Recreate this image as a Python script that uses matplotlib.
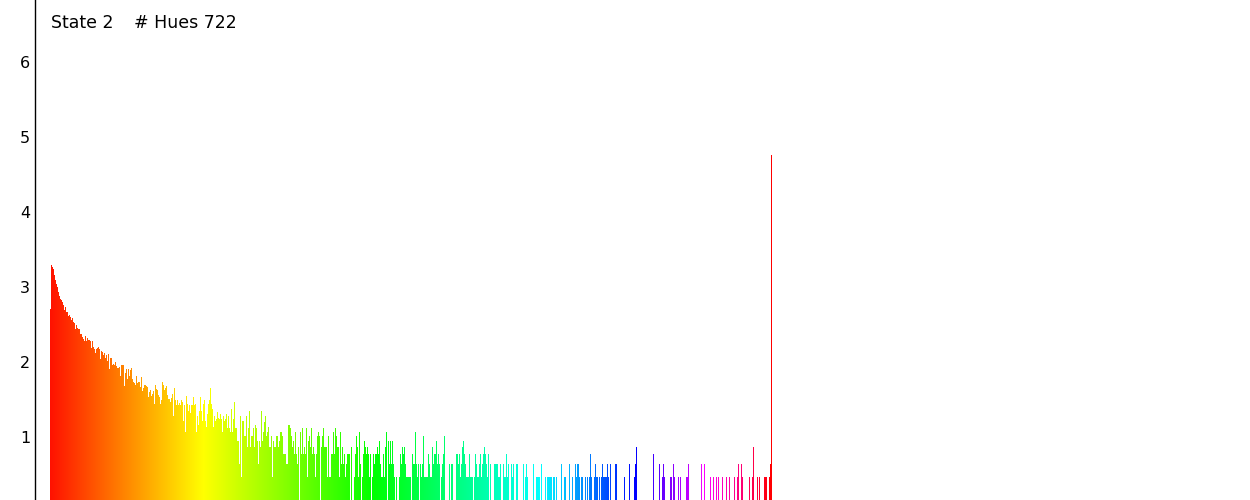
import numpy as np
import matplotlib
matplotlib.use("Agg")
import matplotlib.pyplot as plt
from matplotlib.colors import hsv_to_rgb

estado = "State 2"
cuenta_tonos = "# Hues 722"

# alturas de cada barra (una por tono)
tramo_a = [2.71, 3.29, 3.27, 3.24, 3.16, 3.09, 3.04, 3.00, 2.93, 2.88,
           2.84, 2.83, 2.80, 2.76, 2.70, 2.73, 2.67, 2.67, 2.61, 2.63,
           2.60, 2.56, 2.59, 2.54, 2.52, 2.44, 2.49, 2.46, 2.44, 2.44,
           2.38, 2.37, 2.33, 2.31, 2.28, 2.35, 2.28, 2.32, 2.30, 2.29,
           2.28, 2.19, 2.28, 2.20, 2.18, 2.12, 2.17, 2.19, 2.20, 2.17,
           2.04, 2.15, 2.13, 2.10, 2.12, 2.06, 2.09, 2.02, 2.11, 1.91,
           2.05, 2.06, 1.96, 1.98, 1.96, 2.00, 1.95, 1.92, 1.92, 1.94,
           1.81, 1.96, 1.96, 1.96, 1.68, 1.85, 1.91, 1.77, 1.91, 1.81,
           1.89, 1.92, 1.78, 1.74, 1.72, 1.70, 1.81, 1.72, 1.73, 1.74,
           1.67, 1.80, 1.61, 1.66, 1.69, 1.69, 1.68, 1.67, 1.54, 1.60,
           1.63, 1.55, 1.58, 1.62, 1.44, 1.69, 1.64, 1.63, 1.56, 1.54,
           1.44, 1.50, 1.73, 1.70, 1.63, 1.66, 1.68, 1.56, 1.51, 1.51]

tramo_b = [1.47, 1.52, 1.58, 1.28, 1.66, 1.49, 1.43, 1.49, 1.43, 1.46,
           1.43, 1.49, 1.47, 1.22, 1.43, 1.07, 1.55, 1.44, 1.35, 1.43,
           1.32, 1.43, 1.43, 1.53, 1.43, 1.44, 1.07, 1.28, 1.16, 1.35,
           1.53, 1.35, 1.22, 1.44, 1.49, 1.22, 1.13, 1.31, 1.44, 1.50,
           1.65, 1.44, 1.37, 1.13, 1.28, 1.22, 1.24, 1.34, 1.25, 1.24,
           1.31, 1.24, 1.07, 1.28, 1.22, 1.24, 1.31, 1.12, 1.28, 1.12,
           1.07, 1.37, 1.07, 1.24, 1.47, 1.12, 1.12, 0.95, 0.95, 0.64,
           1.28, 0.47, 1.22, 1.22, 1.01, 1.01, 1.28, 0.87, 1.12, 1.35,
           0.87, 1.01, 1.01, 1.12, 0.87, 1.16, 1.12, 0.95, 0.64, 0.95,
           0.87, 1.35, 0.95, 1.07, 1.20, 1.28, 1.01, 1.07, 1.13, 0.87,
           0.87, 1.01, 0.47, 0.95, 0.87, 0.87, 1.01, 1.01, 0.87, 0.95,
           1.07, 1.07, 1.01, 0.77, 0.77, 0.77, 0.64, 0.64, 1.16, 1.16]

tramo_c = [1.12, 1.01, 0.87, 0.95, 0.77, 1.07, 0.77, 0.64, 0.87, 0,
           1.07, 0.77, 1.12, 0.77, 0.87, 0.77, 1.12, 0.47, 0.95, 1.01,
           0.87, 1.12, 0.77, 0.87, 0.77, 0.47, 0.77, 1.01, 1.07, 1.01,
           0, 0.87, 1.01, 1.12, 0.87, 0.87, 0.87, 0.47, 1.01, 0.47,
           0.47, 0.77, 0.77, 1.07, 0.77, 1.12, 1.01, 0.87, 0.87, 0.47,
           1.07, 0.64, 0.87, 0.64, 0.77, 0.47, 0.64, 0.77, 0.77, 0.77,
           0, 0.87, 0, 0, 0.47, 0.77, 1.01, 0.87, 0.47, 1.07,
           0.64, 0, 0.47, 0.77, 0.95, 0.87, 0.77, 0.87, 0.77, 0.47,
           0.77, 0, 0.47, 0.77, 0.64, 0.77, 0.77, 0.87, 0.77, 0.95,
           0.64, 0.47, 0.47, 0.77, 0.47, 0.87, 1.07, 0, 0.95, 0.64,
           0.95, 0.64, 0.95, 0.64, 0.47, 0, 0.47, 0, 0, 0.47,
           0.77, 0.64, 0.87, 0.77, 0.87, 0.64, 0.47, 0.47, 0.47, 0.47,
           0.47, 0, 0.77, 0.64, 0.64]

tramo_d = [1.07, 0.64, 0.47, 0.64, 0, 0.64, 0.47, 0.64, 1.01, 0.47,
           0.47, 0.47, 0.47, 0.77, 0.64, 0.47, 0.47, 0.87, 0.64, 0.77,
           0.77, 0.95, 0.64, 0.77, 0.64, 0, 0.47, 0.64, 0.77, 1.01,
           0, 0, 0, 0, 0.64, 0, 0.64, 0.64, 0, 0,
           0, 0.77, 0.77, 0.64, 0.77, 0.47, 0.64, 0.87, 0.95, 0.77,
           0.64, 0.47, 0.47, 0.47, 0.77, 0.47, 0.47, 0.47, 0, 0.47,
           0.77, 0.64, 0.47, 0.47, 0.64, 0.77, 0.47, 0.64, 0.77, 0.87,
           0.77, 0.64, 0.47, 0.77, 0, 0.64, 0, 0, 0, 0.64,
           0.64, 0.64, 0.64, 0.47, 0.47, 0.64, 0, 0, 0.64, 0.47,
           0.47, 0.77, 0.47, 0.64, 0, 0, 0.64, 0.47, 0.64, 0,
           0, 0.64, 0.64, 0, 0, 0, 0, 0, 0.64, 0,
           0.47, 0.64, 0.47, 0, 0, 0, 0, 0, 0.64, 0,
           0, 0.47, 0.47, 0.47, 0.47]

tramo_e = [0, 0.64, 0, 0, 0, 0.47, 0, 0.47, 0.47, 0.47,
           0.47, 0.47, 0, 0.47, 0.47, 0, 0.47, 0, 0, 0,
           0, 0.64, 0, 0, 0.47, 0.47, 0, 0, 0, 0.64,
           0, 0, 0.47, 0, 0, 0.64, 0.47, 0.64, 0.64, 0.47,
           0, 0.47, 0.47, 0, 0, 0.47, 0, 0.47, 0, 0.47,
           0.77, 0.47, 0, 0, 0.47, 0.64, 0.47, 0.47, 0, 0.47,
           0, 0.47, 0.64, 0.47, 0.47, 0.47, 0.47, 0.64, 0.47, 0,
           0.64, 0, 0, 0, 0, 0.64, 0.64, 0, 0, 0,
           0, 0, 0, 0, 0.47, 0, 0, 0, 0, 0.64,
           0, 0, 0, 0, 0.47, 0.64, 0.87, 0, 0, 0,
           0, 0, 0, 0, 0, 0, 0, 0, 0, 0,
           0, 0, 0, 0.77, 0, 0, 0, 0, 0, 0.64,
           0, 0, 0.47, 0.64, 0.47]

tramo_f = [0, 0, 0, 0, 0, 0.47, 0.47, 0, 0.64, 0.47,
           0, 0, 0, 0.47, 0, 0.47, 0, 0, 0, 0,
           0, 0.47, 0.47, 0.64, 0, 0, 0, 0, 0, 0,
           0, 0, 0, 0, 0, 0, 0.64, 0, 0, 0.64,
           0, 0, 0, 0, 0, 0.47, 0, 0, 0.47, 0,
           0, 0.47, 0, 0.47, 0, 0, 0, 0.47, 0, 0,
           0, 0.47, 0, 0, 0.47, 0, 0, 0, 0, 0.47,
           0, 0, 0.47, 0.64, 0, 0, 0.64, 0.47, 0, 0,
           0, 0, 0, 0, 0.47, 0, 0, 0.47, 0.87, 0,
           0, 0, 0.47, 0, 0.47, 0, 0, 0, 0, 0.47,
           0.47, 0.47, 0, 0, 0.47, 0.64, 4.76]

# donde cae cada tono puro (indice de barra -> grados)
barra_tono = [0, 153, 323, 490, 585, 655, 721]
grados_tono = [4, 60, 120, 180, 240, 300, 360]

ticks_y = [1, 2, 3, 4, 5, 6]


def colores_barras(n):
    idx = np.arange(n)
    h = np.interp(idx, barra_tono, grados_tono) / 360.0
    h = h % 1.0
    hsv = np.stack([h, np.ones(n), np.ones(n)], axis=1)
    return hsv_to_rgb(hsv)


alturas = tramo_a + tramo_b + tramo_c + tramo_d + tramo_e + tramo_f
n = len(alturas)
x = np.arange(n)

fig = plt.figure(figsize=(12.5, 5), dpi=100)
ax = fig.add_axes([35 / 1250, 0, 1 - 35 / 1250, 1])
ax.bar(x, alturas, width=1.0, color=colores_barras(n), linewidth=0,
       align="center", antialiased=False)

ax.set_xlim(-15.5, 1199.5)
ax.set_ylim(12 / 75, 512 / 75)
ax.set_yticks(ticks_y)
ax.set_yticklabels([str(t) for t in ticks_y], fontsize=11.5)
ax.tick_params(axis="y", length=0, pad=3.5)
ax.set_xticks([])
for lado in ["top", "right", "bottom"]:
    ax.spines[lado].set_visible(False)
ax.spines["left"].set_linewidth(1)
ax.spines["left"].set_color("black")

fig.text(51 / 1250, 1 - 22.5 / 500, estado, fontsize=12.5, va="center", ha="left")
fig.text(134 / 1250, 1 - 22.5 / 500, cuenta_tonos, fontsize=12.5, va="center", ha="left")

fig.savefig("out.png", dpi=100)
